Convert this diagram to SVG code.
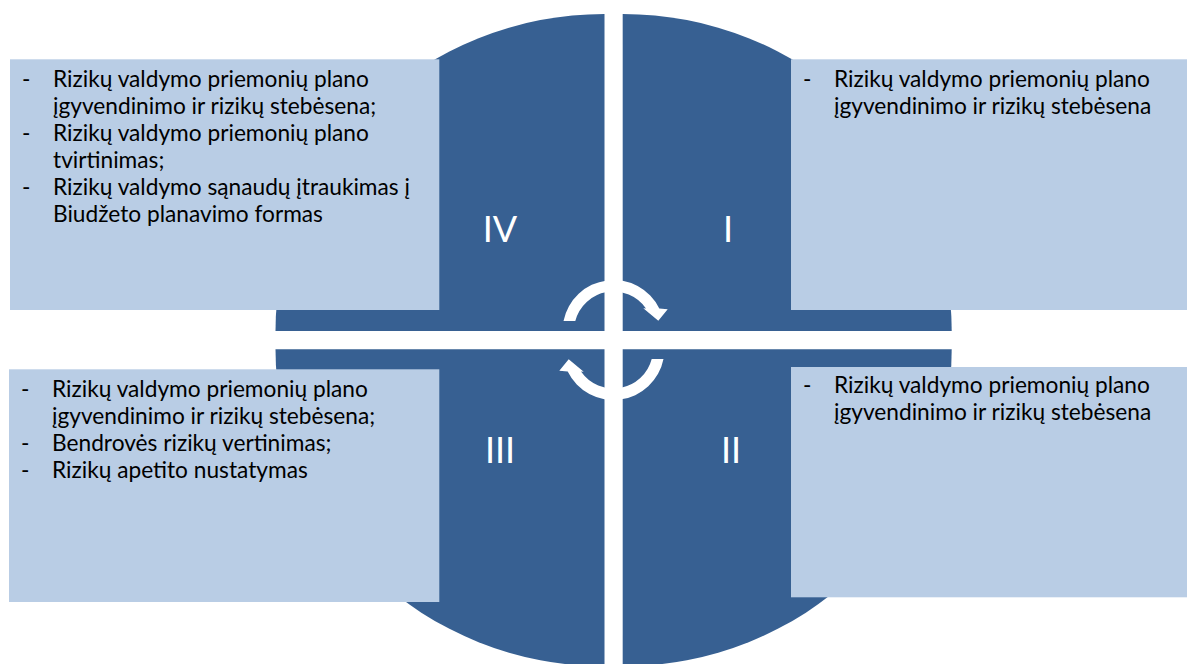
<svg xmlns="http://www.w3.org/2000/svg" width="1187" height="664" viewBox="0 0 1187 664">
  <style>
    .quad { fill: #376092; }
    .box { fill: #B9CDE5; }
    .txt { font-family: "Lato", "Liberation Sans", sans-serif; font-size: 22.7px; fill: #000; }
    .num { font-family: "Lato", "Liberation Sans", sans-serif; font-size: 36px; fill: #fff; text-anchor: middle; }
    .arrow { fill: #fff; }
  </style>
  <rect width="1187" height="664" fill="#fff"/>

  <g id="quadrant-IV">
    <path class="quad" d="M604.5 331 L275.5 331 A329 317 0 0 1 604.5 14 Z"/>
  </g>
  <g id="quadrant-I">
    <path class="quad" d="M622.7 331 L622.7 14 A329 317 0 0 1 951.7 331 Z"/>
  </g>
  <g id="quadrant-II">
    <path class="quad" d="M622.7 349.3 L951.7 349.3 A329 317 0 0 1 622.7 666.3 Z"/>
  </g>
  <g id="quadrant-III">
    <path class="quad" d="M604.5 349.3 L604.5 666.3 A329 317 0 0 1 275.5 349.3 Z"/>
  </g>

  <g id="connectors">
    <path class="arrow" d="M563.5 321 A51 51 0 0 1 659.3 308.5 L667.7 309.3 L658.3 320.7 L643.3 308.3 L646 308.5 A39.5 39.5 0 0 0 575.3 321 Z"/>
    <path class="arrow" transform="rotate(180 613.5 340)" d="M563.5 321 A51 51 0 0 1 659.3 308.5 L667.7 309.3 L658.3 320.7 L643.3 308.3 L646 308.5 A39.5 39.5 0 0 0 575.3 321 Z"/>
  </g>

  <g id="label-IV"><text class="num" x="500" y="242">IV</text></g>
  <g id="label-I"><text class="num" x="728" y="242">I</text></g>
  <g id="label-III"><text class="num" x="500" y="463">III</text></g>
  <g id="label-II"><text class="num" x="731" y="463">II</text></g>

  <g id="box-IV">
    <rect class="box" x="10" y="59.3" width="429.3" height="250.7"/>
    <text class="txt" x="22" y="87">-</text>
    <text class="txt" x="53" y="87">Rizikų valdymo priemonių plano</text>
    <text class="txt" x="53" y="114">įgyvendinimo ir rizikų stebėsena;</text>
    <text class="txt" x="22" y="141">-</text>
    <text class="txt" x="53" y="141">Rizikų valdymo priemonių plano</text>
    <text class="txt" x="53" y="168">tvirtinimas;</text>
    <text class="txt" x="22" y="195">-</text>
    <text class="txt" x="53" y="195">Rizikų valdymo sąnaudų įtraukimas į</text>
    <text class="txt" x="53" y="222">Biudžeto planavimo formas</text>
  </g>

  <g id="box-I">
    <rect class="box" x="791" y="59.3" width="396" height="250.7"/>
    <text class="txt" x="803" y="87">-</text>
    <text class="txt" x="834" y="87">Rizikų valdymo priemonių plano</text>
    <text class="txt" x="834" y="114">įgyvendinimo ir rizikų stebėsena</text>
  </g>

  <g id="box-III">
    <rect class="box" x="9" y="369.3" width="430.3" height="232.7"/>
    <text class="txt" x="21" y="397">-</text>
    <text class="txt" x="52" y="397">Rizikų valdymo priemonių plano</text>
    <text class="txt" x="52" y="424">įgyvendinimo ir rizikų stebėsena;</text>
    <text class="txt" x="21" y="451">-</text>
    <text class="txt" x="52" y="451">Bendrovės rizikų vertinimas;</text>
    <text class="txt" x="21" y="478">-</text>
    <text class="txt" x="52" y="478">Rizikų apetito nustatymas</text>
  </g>

  <g id="box-II">
    <rect class="box" x="791" y="367" width="396" height="230.3"/>
    <text class="txt" x="803" y="393">-</text>
    <text class="txt" x="834" y="393">Rizikų valdymo priemonių plano</text>
    <text class="txt" x="834" y="420">įgyvendinimo ir rizikų stebėsena</text>
  </g>
</svg>
